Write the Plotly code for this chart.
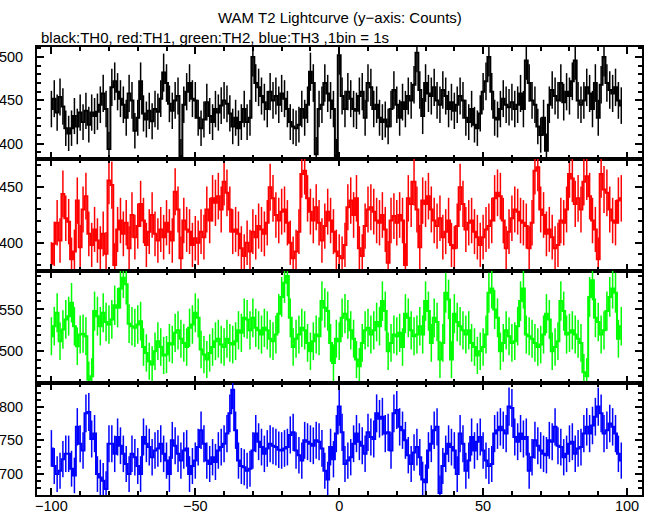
import numpy as np
import plotly.graph_objects as go
from plotly.subplots import make_subplots

# time bins (1 bin = 1 s)
time_s = list(range(-100, 99))

th0_black = [
    440, 452, 436, 454, 443, 418, 412, 418, 432, 420,
    436, 425, 438, 422, 436, 432, 437, 445, 458, 440,
    394, 465, 472, 460, 452, 445, 430, 458, 450, 415,
    430, 472, 435, 428, 438, 426, 440, 437, 452, 482,
    470, 446, 438, 450, 455, 386, 445, 460, 470, 452,
    450, 430, 418, 428, 448, 432, 425, 440, 436, 444,
    450, 446, 435, 420, 430, 418, 425, 440, 425, 430,
    500, 470, 465, 455, 448, 440, 460, 450, 455, 445,
    458, 452, 440, 425, 420, 418, 422, 440, 430, 445,
    483, 470, 388, 440, 445, 470, 458, 450, 440, 386,
    502, 455, 440, 460, 452, 440, 438, 455, 460, 430,
    470, 465, 440, 445, 430, 425, 428, 420, 440, 462,
    445, 430, 448, 440, 455, 450, 468, 505, 462, 432,
    470, 458, 455, 465, 450, 445, 462, 455, 440, 448,
    438, 445, 455, 450, 430, 425, 440, 422, 418, 435,
    460, 472, 500, 460, 430, 428, 440, 452, 445, 442,
    448, 440, 445, 458, 440, 496, 470, 450, 445, 420,
    410, 430, 392, 445, 462, 455, 450, 470, 448, 460,
    455, 472, 496, 450, 445, 450, 465, 458, 440, 470,
    430, 468, 500, 470, 462, 458, 465, 450, 444,
]

th1_red = [
    381, 399, 418, 402, 444, 422, 419, 385, 392, 438,
    396, 430, 442, 408, 398, 412, 402, 395, 408, 390,
    456, 452, 380, 412, 420, 408, 418, 395, 425, 405,
    415, 435, 420, 398, 410, 425, 408, 402, 412, 405,
    418, 410, 402, 446, 430, 386, 420, 412, 410, 398,
    404, 400, 410, 405, 430, 420, 440, 436, 442, 430,
    455, 445, 430, 410, 412, 408, 395, 388, 400, 392,
    410, 405, 415, 412, 408, 418, 450, 440, 425, 420,
    428, 430, 418, 400, 386, 392, 410, 462, 465, 440,
    428, 420, 432, 418, 402, 415, 428, 420, 410, 392,
    388, 386, 398, 432, 438, 425, 440, 395, 388, 415,
    430, 432, 428, 420, 418, 425, 412, 382, 420, 424,
    418, 425, 420, 380, 440, 435, 455, 430, 396, 438,
    435, 442, 430, 420, 415, 422, 405, 410, 420, 398,
    395, 415, 450, 435, 412, 418, 420, 410, 405, 398,
    405, 412, 415, 420, 440, 445, 442, 420, 395, 410,
    422, 430, 428, 420, 418, 415, 395, 418, 465, 468,
    430, 425, 408, 412, 405, 395, 398, 420, 418, 430,
    462, 458, 435, 440, 430, 455, 460, 442, 420, 412,
    385, 462, 448, 445, 430, 420, 418, 438, 440,
]

th2_green = [
    518, 530, 546, 512, 526, 538, 542, 558, 530, 506,
    520, 521, 518, 466, 470, 548, 542, 530, 546, 535,
    532, 538, 555, 552, 575, 588, 580, 533, 530, 528,
    532, 536, 505, 498, 488, 484, 500, 512, 505, 495,
    496, 510, 508, 522, 525, 515, 510, 505, 528, 532,
    546, 540, 502, 496, 490, 498, 505, 512, 515, 508,
    505, 515, 510, 508, 512, 525, 522, 540, 538, 525,
    540, 528, 525, 520, 528, 525, 515, 512, 520, 545,
    565, 582, 590, 540, 505, 515, 520, 528, 525, 510,
    500, 512, 520, 518, 560, 552, 548, 510, 486, 515,
    512, 540, 545, 538, 525, 515, 490, 482, 510, 525,
    528, 520, 525, 535, 530, 560, 548, 500, 510, 520,
    518, 522, 505, 545, 540, 525, 518, 520, 530, 520,
    560, 548, 510, 540, 535, 490, 510, 570, 562, 490,
    545, 535, 530, 525, 520, 525, 510, 505, 495, 500,
    505, 520, 570, 575, 550, 540, 500, 510, 525, 518,
    510, 512, 530, 560, 575, 520, 518, 515, 510, 505,
    508, 520, 545, 538, 500, 505, 512, 560, 548, 520,
    522, 525, 520, 515, 510, 475, 470, 565, 585, 540,
    535, 520, 525, 548, 565, 575, 570, 515, 530,
]

th3_blue = [
    738, 712, 700, 705, 722, 730, 730, 708, 698, 770,
    745, 735, 790, 792, 752, 760, 700, 695, 690, 678,
    745, 745, 730, 755, 742, 730, 715, 700, 730, 725,
    712, 700, 755, 745, 740, 725, 735, 738, 745, 730,
    720, 700, 750, 742, 730, 720, 735, 738, 700, 712,
    720, 740, 765, 745, 720, 715, 725, 718, 735, 740,
    745, 760, 790, 825, 765, 720, 712, 710, 705, 708,
    735, 760, 748, 740, 730, 738, 745, 742, 740, 736,
    735, 738, 740, 758, 762, 735, 728, 720, 750, 748,
    745, 742, 750, 748, 738, 705, 692, 740, 722, 760,
    800, 762, 715, 720, 725, 745, 760, 748, 742, 730,
    762, 755, 752, 790, 782, 785, 760, 762, 735, 790,
    795, 770, 765, 750, 728, 715, 732, 740, 725, 692,
    688, 735, 745, 765, 770, 672, 712, 730, 745, 740,
    735, 700, 760, 745, 705, 720, 755, 735, 748, 755,
    735, 720, 712, 715, 760, 765, 770, 765, 760, 800,
    798, 755, 748, 760, 752, 755, 705, 725, 750, 742,
    735, 730, 728, 750, 748, 770, 742, 740, 725, 730,
    745, 748, 730, 738, 740, 760, 770, 760, 772, 785,
    800, 790, 760, 765, 775, 770, 760, 730, 720,
]

series = [th0_black, th1_red, th2_green, th3_blue]
colors = ["#000000", "#ff0000", "#00ff00", "#0000ff"]
y_ranges = [[382.5, 511.5], [374.5, 475.5], [462, 596], [669, 835]]

FONT = "Liberation Sans, Arial, sans-serif"

fig = make_subplots(rows=4, cols=1, shared_xaxes=True, vertical_spacing=0)

for i, (vals, col) in enumerate(zip(series, colors)):
    v = np.array(vals, dtype=float)
    fig.add_trace(
        go.Scatter(
            x=time_s, y=v, mode="lines",
            line=dict(color=col, width=2, shape="hvh"),
            error_y=dict(type="data", array=np.sqrt(v), width=0,
                         thickness=1.5, color=col),
            showlegend=False, hoverinfo="skip",
        ),
        row=i + 1, col=1,
    )

axis_common = dict(
    showline=True, linecolor="black", linewidth=2, mirror="allticks",
    ticks="inside", ticklen=7, tickwidth=2, tickcolor="black",
    showgrid=False, zeroline=False, automargin=False,
    tickfont=dict(family=FONT, size=14.5, color="black"),
    minor=dict(ticks="inside", ticklen=4, tickwidth=1.5, tickcolor="black",
               dtick=10, showgrid=False),
)

for i in range(4):
    fig.update_yaxes(range=y_ranges[i], dtick=50, tick0=0, ticklabelstandoff=9,
                     row=i + 1, col=1, **axis_common)
    fig.update_xaxes(range=[-105, 105.2], dtick=50, tick0=0, ticklabelstandoff=-3,
                     row=i + 1, col=1, **axis_common)

fig.update_layout(
    width=653, height=515,
    margin=dict(l=37, r=11, t=47, b=20),
    paper_bgcolor="white", plot_bgcolor="white",
    font=dict(family=FONT, size=15, color="black"),
    annotations=[
        dict(text="WAM T2 Lightcurve (y\u2212axis: Counts)", xref="paper", yref="paper",
             x=0.5, y=1.065, xanchor="center", yanchor="middle", showarrow=False,
             font=dict(family=FONT, size=15, color="black")),
        dict(text="black:TH0, red:TH1, green:TH2, blue:TH3 ,1bin = 1s", xref="paper", yref="paper",
             x=0.004, y=1.022, xanchor="left", yanchor="middle", showarrow=False,
             font=dict(family=FONT, size=15, color="black")),
    ],
)

fig.write_html("out.html",
               config={"displayModeBar": False},
               post_script="document.body.style.margin='0';document.body.style.overflow='hidden';")
